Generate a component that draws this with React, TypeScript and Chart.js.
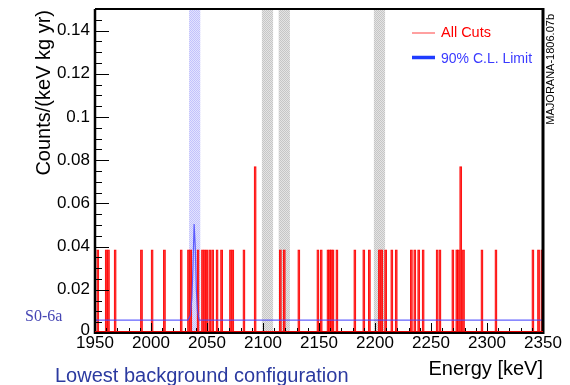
import React, { useEffect, useRef } from "react";
import { Chart, registerables } from "chart.js";

Chart.register(...registerables);

// ---- data ----
const X_MIN = 1950;
const X_MAX = 2350;
const Y_MIN = 0;
const Y_MAX = 0.15;
const xTickLabels = [1950, 2000, 2050, 2100, 2150, 2200, 2250, 2300, 2350];
const yTickLabels = [0, 0.02, 0.04, 0.06, 0.08, 0.1, 0.12, 0.14];

const ONE_COUNT = 0.0385;
// energies (keV) of bins with one event
const singleEventEnergies = [
  1952.5, 1960, 1962, 1968, 1991.5, 2001, 2012, 2027, 2033.5, 2035.5,
  2042, 2046, 2048, 2050, 2052.5, 2055, 2059, 2063, 2071, 2073, 2083,
  2115.5, 2119, 2132, 2149, 2152, 2158, 2159.5, 2161, 2162.5, 2166,
  2182, 2190, 2195, 2204, 2206, 2209.5, 2215, 2219, 2232.5, 2235.5,
  2239, 2243, 2255.5, 2258, 2269.5, 2273, 2274.5, 2279, 2295.5, 2308,
  2341, 2346, 2349,
];
// energies (keV) of bins with two events
const doubleEventEnergies = [2093, 2276.5];

// 90% C.L. limit curve
const limitEnergies = [1950, 2033, 2035, 2036.5, 2037.5, 2038.5, 2039.5, 2040.5, 2041.5, 2043, 2350];
const limitValues = [0.006, 0.006, 0.008, 0.016, 0.031, 0.0505, 0.04, 0.02, 0.01, 0.006, 0.006];

// excluded gamma-line windows and ROI window
const grayBandLows = [2099, 2114, 2199];
const grayBandHighs = [2109, 2124, 2209];
const roiLow = 2034;
const roiHigh = 2044;

const SANS = '"Liberation Sans", Arial, Helvetica, sans-serif';

function makePattern(ctx: CanvasRenderingContext2D, c1: string, c2: string) {
  const p = document.createElement("canvas");
  p.width = 2;
  p.height = 2;
  const pc = p.getContext("2d")!;
  pc.fillStyle = c2;
  pc.fillRect(0, 0, 2, 2);
  pc.fillStyle = c1;
  pc.fillRect(0, 0, 1, 1);
  pc.fillRect(1, 1, 1, 1);
  return ctx.createPattern(p, "repeat")!;
}

const overlay = {
  id: "overlay",
  beforeDatasetsDraw(chart: any) {
    const { ctx, chartArea: ca, scales } = chart;
    const x = scales.x;
    ctx.save();
    const band = (lo: number, hi: number, fill: any) => {
      const x0 = x.getPixelForValue(lo);
      const x1 = x.getPixelForValue(hi);
      ctx.fillStyle = fill;
      ctx.fillRect(x0, ca.top, x1 - x0, ca.bottom - ca.top);
    };
    band(roiLow, roiHigh, makePattern(ctx, "#c2c2fb", "#e2e2fe"));
    const gp = makePattern(ctx, "#c6c6c6", "#e4e4e4");
    for (let i = 0; i < grayBandLows.length; i++) band(grayBandLows[i], grayBandHighs[i], gp);
    ctx.restore();
  },
  afterDatasetsDraw(chart: any) {
    const { ctx, chartArea: ca, scales } = chart;
    const x = scales.x;
    const y = scales.y;
    ctx.save();
    // ticks
    ctx.strokeStyle = "#000";
    ctx.lineWidth = 1;
    ctx.beginPath();
    for (let v = X_MIN; v <= X_MAX + 0.01; v += 10) {
      const px = Math.round(x.getPixelForValue(v)) + 0.5;
      const len = Math.abs(v % 50) < 0.01 ? 10 : 5;
      ctx.moveTo(px, ca.bottom);
      ctx.lineTo(px, ca.bottom - len);
    }
    for (let i = 0; i <= 30; i++) {
      const v = i * 0.005;
      if (v > Y_MAX) break;
      const py = Math.round(y.getPixelForValue(v)) + 0.5;
      const len = i % 4 === 0 ? 14 : 7;
      ctx.moveTo(ca.left, py);
      ctx.lineTo(ca.left + len, py);
    }
    ctx.stroke();
    // frame
    ctx.lineWidth = 2;
    ctx.beginPath();
    ctx.moveTo(ca.left, ca.top);
    ctx.lineTo(ca.right, ca.top);
    ctx.stroke();
    ctx.lineWidth = 2.5;
    ctx.beginPath();
    ctx.moveTo(ca.left, ca.top);
    ctx.lineTo(ca.left, ca.bottom + 1);
    ctx.stroke();
    ctx.lineWidth = 3;
    ctx.beginPath();
    ctx.moveTo(ca.right, ca.top - 1);
    ctx.lineTo(ca.right, ca.bottom + 1);
    ctx.stroke();
    ctx.lineWidth = 2;
    ctx.beginPath();
    ctx.moveTo(ca.left, ca.bottom);
    ctx.lineTo(ca.right, ca.bottom);
    ctx.stroke();
    // red histogram baseline
    ctx.strokeStyle = "#e00000";
    ctx.lineWidth = 1;
    ctx.beginPath();
    ctx.moveTo(ca.left, ca.bottom - 1.5);
    ctx.lineTo(ca.right, ca.bottom - 1.5);
    ctx.stroke();
    ctx.restore();
  },
  afterDraw(chart: any) {
    const { ctx, chartArea: ca, scales } = chart;
    const x = scales.x;
    const y = scales.y;
    ctx.save();
    ctx.fillStyle = "#000";
    ctx.font = `17px ${SANS}`;
    // y tick labels
    ctx.textAlign = "right";
    ctx.textBaseline = "middle";
    yTickLabels.forEach((v) => {
      const label = v === 0 ? "0" : String(Number(v.toFixed(2)));
      ctx.fillText(label, ca.left - 5, y.getPixelForValue(v) + (v === 0 ? -3 : 0));
    });
    // x tick labels
    ctx.textAlign = "center";
    ctx.textBaseline = "top";
    xTickLabels.forEach((v) => {
      ctx.fillText(String(v), x.getPixelForValue(v), ca.bottom + 2);
    });
    // axis titles
    ctx.font = `20px ${SANS}`;
    ctx.textAlign = "right";
    ctx.textBaseline = "middle";
    ctx.fillText("Energy [keV]", ca.right, 369);
    ctx.save();
    ctx.translate(44, ca.top + 1);
    ctx.rotate(-Math.PI / 2);
    ctx.textAlign = "right";
    ctx.fillText("Counts/(keV kg yr)", 0, 0);
    ctx.restore();
    // bottom caption
    ctx.fillStyle = "#2b3aa0";
    ctx.textAlign = "left";
    ctx.fillText("Lowest background configuration", 55, 376);
    // left label
    ctx.fillStyle = "#4646b4";
    ctx.font = `16px "Liberation Serif", "Times New Roman", serif`;
    ctx.fillText("S0-6a", 25, 317);
    // legend
    ctx.lineWidth = 1.5;
    ctx.strokeStyle = "#ff8080";
    ctx.beginPath();
    ctx.moveTo(412, 33);
    ctx.lineTo(435, 33);
    ctx.stroke();
    ctx.lineWidth = 3.5;
    ctx.strokeStyle = "#1f3cff";
    ctx.beginPath();
    ctx.moveTo(412, 57.5);
    ctx.lineTo(435, 57.5);
    ctx.stroke();
    ctx.font = `14.5px ${SANS}`;
    ctx.fillStyle = "#ff0000";
    ctx.fillText("All Cuts", 441, 33);
    ctx.fillStyle = "#3a3aff";
    ctx.font = `14px ${SANS}`;
    ctx.fillText("90% C.L. Limit", 441, 59);
    // vertical id
    ctx.save();
    ctx.translate(551, 14);
    ctx.rotate(-Math.PI / 2);
    ctx.fillStyle = "#000";
    ctx.font = `11px ${SANS}`;
    ctx.textAlign = "right";
    ctx.textBaseline = "middle";
    ctx.fillText("MAJORANA-1806.07b", 0, 0);
    ctx.restore();
    ctx.restore();
  },
};

export default function App() {
  const ref = useRef<HTMLCanvasElement>(null);
  useEffect(() => {
    if (!ref.current) return;
    const barData = [
      ...singleEventEnergies.map((e) => ({ x: e, y: ONE_COUNT })),
      ...doubleEventEnergies.map((e) => ({ x: e, y: 2 * ONE_COUNT })),
    ];
    const limitData = limitEnergies.map((e, i) => ({ x: e, y: limitValues[i] }));
    const chart = new Chart(ref.current, {
      type: "bar",
      data: {
        datasets: [
          {
            type: "line",
            label: "90% C.L. Limit",
            data: limitData,
            borderColor: "rgba(70,70,255,0.85)",
            borderWidth: 1.2,
            pointRadius: 0,
            tension: 0,
            order: 0,
          } as any,
          {
            type: "bar",
            label: "All Cuts",
            data: barData,
            backgroundColor: "rgba(255,90,90,0.28)",
            borderColor: "rgba(255,0,0,0.95)",
            borderWidth: 0.8,
            barThickness: 2.2,
            grouped: false,
            borderSkipped: "bottom",
            order: 1,
          } as any,
        ],
      },
      options: {
        responsive: false,
        animation: false,
        events: [],
        layout: { padding: { left: 95, right: 27, top: 9, bottom: 52 } },
        plugins: { legend: { display: false }, tooltip: { enabled: false } },
        scales: {
          x: { type: "linear", min: X_MIN, max: X_MAX, offset: false, display: false },
          y: { type: "linear", min: Y_MIN, max: Y_MAX, display: false },
        },
      },
      plugins: [overlay],
    });
    return () => chart.destroy();
  }, []);
  return (
    <div style={{ position: "fixed", left: 0, top: 0, width: 570, height: 385, background: "#fff" }}>
      <canvas ref={ref} width={570} height={385} />
    </div>
  );
}
